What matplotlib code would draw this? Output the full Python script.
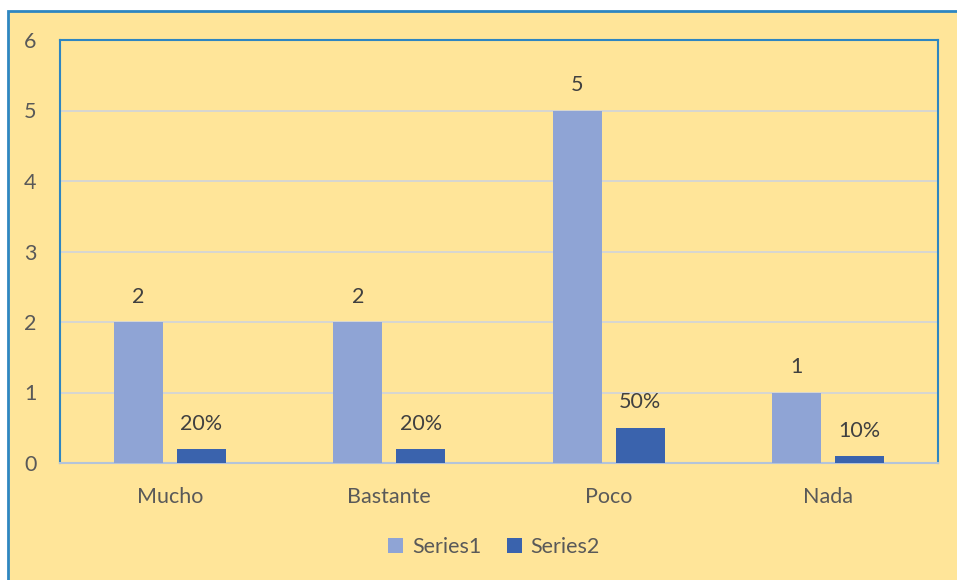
import matplotlib
matplotlib.use("Agg")
import matplotlib.pyplot as plt
from matplotlib.patches import Rectangle
import numpy as np

categorias = ["Mucho", "Bastante", "Poco", "Nada"]
series1 = [2, 2, 5, 1]
series2 = [0.2, 0.2, 0.5, 0.1]
etiquetas1 = ["2", "2", "5", "1"]
etiquetas2 = ["20%", "20%", "50%", "10%"]

fondo = "#FFE599"
azul_claro = "#8FA4D5"
azul_oscuro = "#3A63AD"
borde = "#2E86C1"
gris = "#595959"

plt.rcParams["font.family"] = ["Lato", "DejaVu Sans"]

fig = plt.figure(figsize=(9.57, 5.8), dpi=100)
fig.patch.set_facecolor("white")
# marco del grafico, detras de los ejes
fig.patches.append(Rectangle((8 / 957, -0.1), 1.2, (580 - 11) / 580 + 0.1,
                             transform=fig.transFigure, facecolor=fondo,
                             edgecolor=borde, linewidth=2, zorder=-1))

ax = fig.add_axes([60 / 957, 117 / 580, 878 / 957, 423 / 580])
ax.set_facecolor(fondo)

x = np.arange(len(categorias))
ancho = 0.223
desp = 0.143
b1 = ax.bar(x - desp, series1, ancho, color=azul_claro, zorder=3, label="Series1")
b2 = ax.bar(x + desp, series2, ancho, color=azul_oscuro, zorder=3, label="Series2")

for barra, txt in zip(b1, etiquetas1):
    ax.annotate(txt, (barra.get_x() + barra.get_width() / 2, barra.get_height()),
                xytext=(0, 11), textcoords="offset points", ha="center", va="bottom",
                fontsize=15.5, color="#404040")
for barra, txt in zip(b2, etiquetas2):
    ax.annotate(txt, (barra.get_x() + barra.get_width() / 2, barra.get_height()),
                xytext=(0, 11), textcoords="offset points", ha="center", va="bottom",
                fontsize=15.5, color="#404040")

ax.set_xlim(-0.5, len(categorias) - 0.5)
ax.set_ylim(0, 6)
ax.set_yticks(range(0, 7))
ax.set_xticks(x)
ax.set_xticklabels(categorias)
ax.yaxis.grid(True, color="#D0D4DC", linewidth=1.2, zorder=0)
ax.set_axisbelow(True)
ax.tick_params(axis="both", length=0, labelsize=15.5, colors=gris)
ax.tick_params(axis="x", pad=17)
ax.tick_params(axis="y", pad=17)

for lado in ["left", "top", "right"]:
    ax.spines[lado].set_color(borde)
    ax.spines[lado].set_linewidth(1.5)
ax.spines["bottom"].set_color("#B4C4DA")
ax.spines["bottom"].set_linewidth(1.5)

leg = fig.legend(loc="center", bbox_to_anchor=(494 / 957, 1 - 547 / 580), ncol=2,
                 frameon=False, fontsize=15.5, handlelength=0.7, handleheight=0.7,
                 handletextpad=0.4, columnspacing=1.2)
for t in leg.get_texts():
    t.set_color(gris)

fig.savefig("out.png", dpi=100, facecolor=fig.get_facecolor())
